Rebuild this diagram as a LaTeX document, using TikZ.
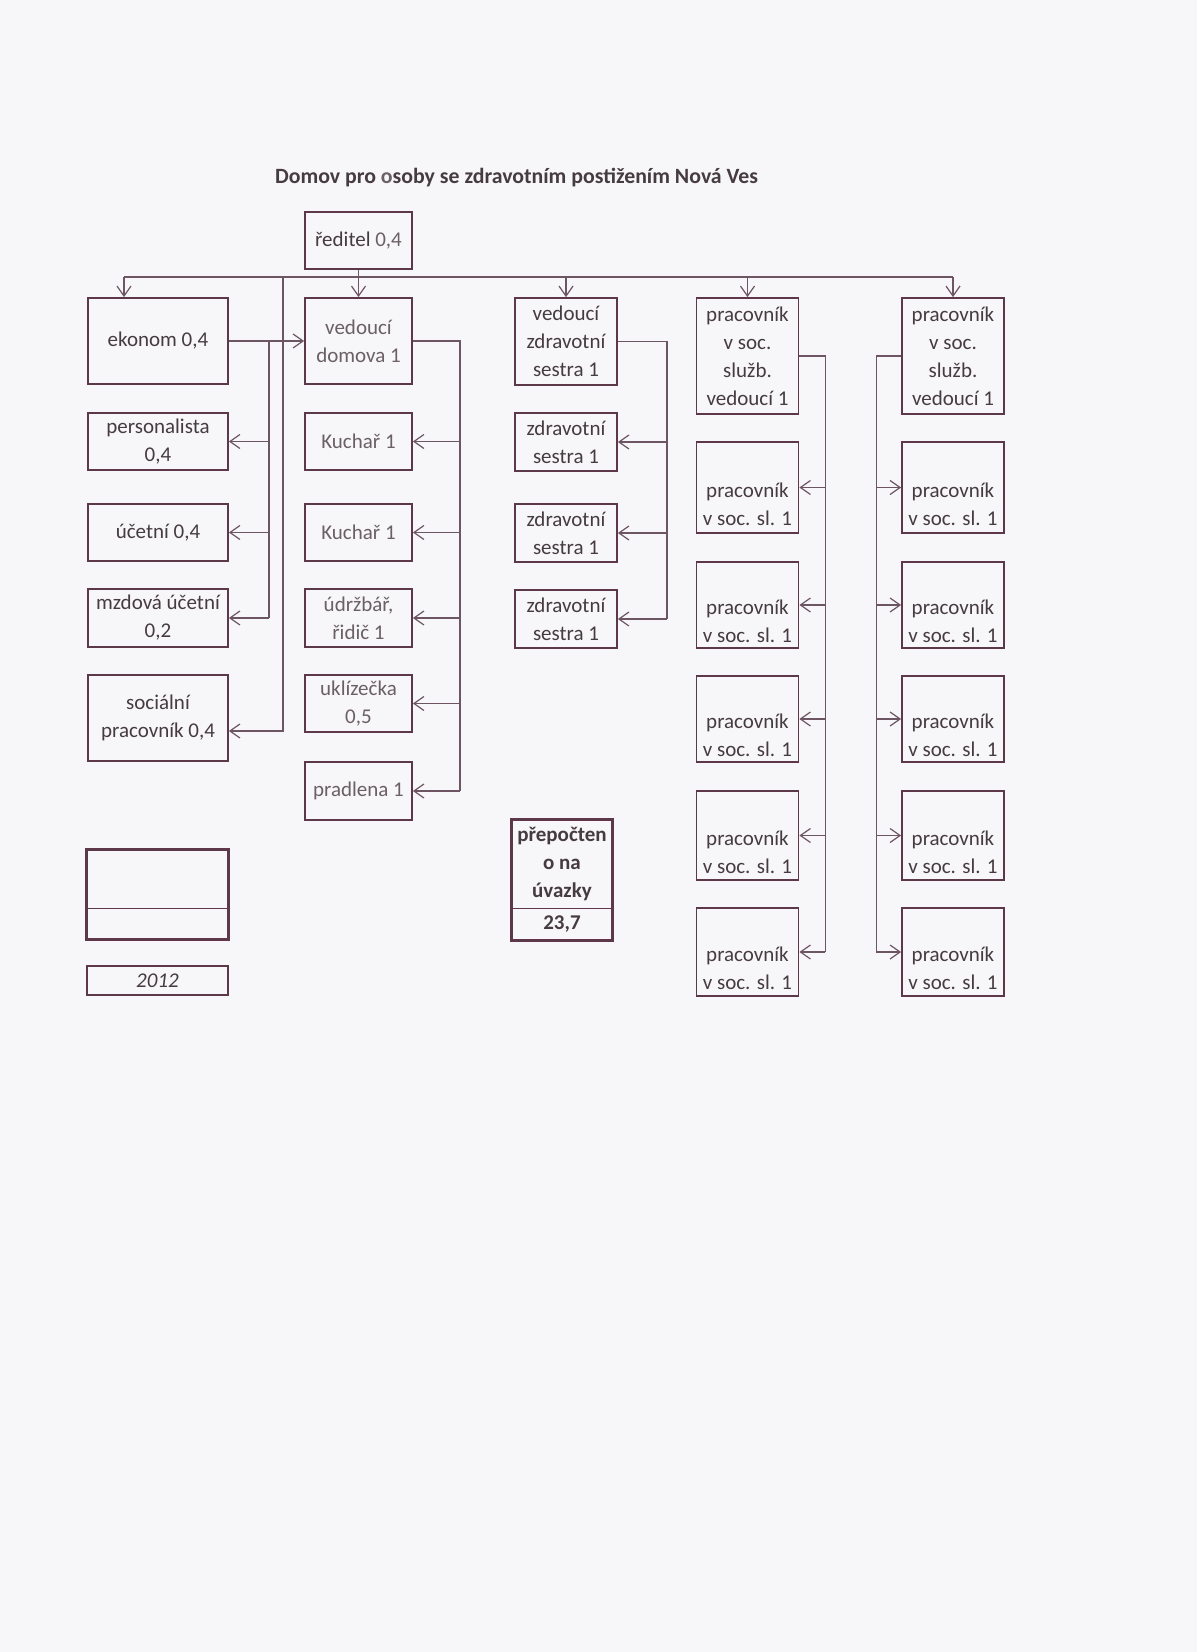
\documentclass[tikz,border=0pt]{standalone}
\usepackage{fontspec}
\setmainfont{Carlito}
\usetikzlibrary{arrows.meta,positioning,calc}
\definecolor{pagec}{HTML}{F7F6F9}
\definecolor{boxc}{HTML}{5C3848}
\definecolor{linec}{HTML}{6E5564}
\definecolor{txtc}{HTML}{463C40}
\definecolor{ltxt}{HTML}{6A6065}

\begin{document}
\begin{tikzpicture}[x=0.5pt,y=-0.5pt,font=\fontsize{10.5}{14}\selectfont,text=txtc,
 box/.style={draw=boxc,line width=0.9pt,align=center,inner sep=2pt,minimum height=28.5pt},
 colA/.style={box,minimum width=70pt},
 colB/.style={box,minimum width=53.5pt,text=ltxt},
 colC/.style={box,minimum width=51pt},
 heavy/.style={draw=boxc,line width=1.6pt},
 conn/.style={draw=linec,line width=0.6pt},
 arr/.style={conn,-{Straight Barb[length=5pt,width=7pt]}}]
\fill[pagec] (0,0) rectangle (1197,1652);
\useasboundingbox (0,0) rectangle (1197,1652);
\node[anchor=west,font=\fontsize{10.9}{14}\selectfont\bfseries] (title) at (268,178) {Domov pro \textcolor{ltxt}{o}soby se zdravotním postižením Nová Ves};
\node[colB,text=txtc] (reditel) at (358.5,240.5) {ředitel \textcolor{ltxt}{0,4}};
% levy sloupec
\node[colA,minimum height=43pt] (ekonom) at (158,341) {ekonom 0,4};
\node[colA] (personalista) at (158,441.5) {personalista\\0,4};
\node[colA] (ucetni) at (158,532.5) {účetní 0,4};
\node[colA,minimum height=29pt] (mzdova) at (158,618) {mzdová účetní\\0,2};
\node[colA,minimum height=43pt] (socialni) at (158,718) {sociální\\pracovník 0,4};
% provoz
\node[colB,minimum height=43pt] (vdomova) at (358.5,341) {vedoucí\\domova 1};
\node[colB] (kuchar) at (358.5,441.5) {Kuchař 1};
\node[colB] (kuchar2) at (358.5,532.5) {Kuchař 1};
\node[colB,minimum height=29pt] (udrzbar) at (358.5,618) {údržbář,\\řidič 1};
\node[colB] (uklizecka) at (358.5,703.5) {uklízečka\\0,5};
\node[colB,minimum height=29pt] (pradlena) at (358.5,791) {pradlena 1};
% zdravotni usek
\node[colC,minimum height=43.5pt] (zvs) at (566,341.5) {vedoucí\\zdravotní\\sestra 1};
\node[colC,minimum height=29pt] (zs1) at (566,442) {zdravotní\\sestra 1};
\node[colC,minimum height=29pt] (zs2) at (566,533) {zdravotní\\sestra 1};
\node[colC,minimum height=29pt] (zs3) at (566,619) {zdravotní\\sestra 1};
% socialni usek
\node[colC,minimum height=58pt] (sv4) at (747.5,356) {pracovník\\v soc.\\služb.\\vedoucí 1};
\node[colC,minimum height=58pt] (sv5) at (953,356) {pracovník\\v soc.\\služb.\\vedoucí 1};
\foreach \r/\y/\h in {a/487.5/45.5,b/605/43,c/719/43,d/835.5/44.5,e/952/44}{
 \node[colC,minimum height=\h pt] (p4\r) at (747.5,\y) {\strut\\pracovník\\v soc. sl. 1};
 \node[colC,minimum height=\h pt] (p5\r) at (953,\y) {\strut\\pracovník\\v soc. sl. 1};}
% souhrn
\node[minimum width=50pt,minimum height=44pt,align=center,inner sep=2pt,font=\fontsize{10.5}{14}\selectfont\bfseries] (prep) at (562,864) {přepočten\\o na\\úvazky};
\node[below=0pt of prep,minimum width=50pt,minimum height=15.5pt,inner sep=1pt,font=\fontsize{10.5}{14}\selectfont\bfseries] (prepv) {23,7};
\draw[heavy] (prep.north west) rectangle (prepv.south east);
\draw[draw=boxc,line width=0.7pt] (prep.south west) -- (prep.south east);
\node[minimum width=70.5pt,minimum height=29pt] (leg) at (157.5,879) {};
\node[below=0pt of leg,minimum width=70.5pt,minimum height=15pt] (legv) {};
\draw[heavy] (leg.north west) rectangle (legv.south east);
\draw[draw=boxc,line width=0.9pt] (leg.south west) -- (leg.south east);
\node[box,minimum width=70.5pt,minimum height=14.5pt,inner sep=1pt,font=\fontsize{10.5}{14}\selectfont\itshape] (rok) at (157.5,980.5) {2012};
% spojnice
\coordinate (busL) at (124,277);
\coordinate (busS) at (283,277);
\draw[conn] (busL) -- (busL -| sv5.north);
\draw[arr] (busL) -- (busL |- ekonom.north);
\draw[arr] (reditel) -- (vdomova);
\foreach \n in {zvs,sv4,sv5} \draw[arr] (busL -| \n.north) -- (\n.north);
\draw[arr] (busS) |- ($(socialni.east)+(0,13)$);
\draw[arr] (ekonom) -- (vdomova);
\coordinate (ekT) at ($(ekonom.east)+(40,0)$);
\draw[conn] (ekT) -- (ekT |- mzdova.east);
\foreach \n in {personalista,ucetni,mzdova} \draw[arr] (ekT |- \n.east) -- (\n.east);
\coordinate (vdT) at ($(vdomova.east)+(47,0)$);
\draw[conn] (vdomova.east) -- (vdT) -- (vdT |- pradlena.east);
\foreach \n in {kuchar,kuchar2,udrzbar,uklizecka,pradlena} \draw[arr] (vdT |- \n.east) -- (\n.east);
\coordinate (zvT) at ($(zvs.east)+(49,0)$);
\draw[conn] (zvs.east) -- (zvT) -- (zvT |- zs3.east);
\foreach \n in {zs1,zs2,zs3} \draw[arr] (zvT |- \n.east) -- (\n.east);
\coordinate (s4T) at ($(sv4.east)+(26,0)$);
\draw[conn] (sv4.east) -- (s4T) -- (s4T |- p4e.east);
\foreach \r in {a,b,c,d,e} \draw[arr] (s4T |- p4\r.east) -- (p4\r.east);
\coordinate (s5T) at ($(sv5.west)+(-25,0)$);
\draw[conn] (sv5.west) -- (s5T) -- (s5T |- p5e.west);
\foreach \r in {a,b,c,d,e} \draw[arr] (s5T |- p5\r.west) -- (p5\r.west);
\end{tikzpicture}
\end{document}
